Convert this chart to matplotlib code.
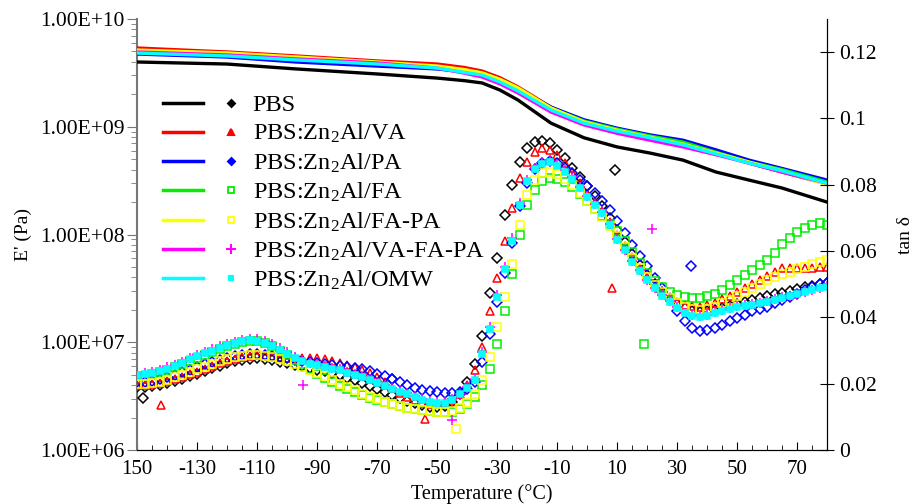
import numpy as np
import matplotlib
matplotlib.use("Agg")
import matplotlib.pyplot as plt
from matplotlib.lines import Line2D
from matplotlib.legend_handler import HandlerTuple
from matplotlib.ticker import FixedLocator, MultipleLocator, FuncFormatter, LogLocator

plt.rcParams['font.family'] = ['Liberation Serif', 'DejaVu Serif']
plt.rcParams['mathtext.fontset'] = 'custom'
plt.rcParams['mathtext.rm'] = 'Liberation Serif'
plt.rcParams['mathtext.it'] = 'Liberation Serif:italic'
plt.rcParams['mathtext.bf'] = 'Liberation Serif:bold'

names = ["PBS", "PBS:Zn$_2$Al/VA", "PBS:Zn$_2$Al/PA", "PBS:Zn$_2$Al/FA",
         "PBS:Zn$_2$Al/FA-PA", "PBS:Zn$_2$Al/VA-FA-PA", "PBS:Zn$_2$Al/OMW"]
colors = ["#000000", "#ff0000", "#0000ff", "#00ee00", "#ffff00", "#ff00ff", "#00ffff"]

# storage modulus E' (Pa)
eT = [-150, -120, -97, -70, -50, -41, -35, -29, -23, -12, -1, 10, 21, 32, 43, 54, 65, 80]
e_pbs = [3.99e9, 3.82e9, 3.44e9, 3.09e9, 2.83e9, 2.68e9, 2.55e9, 2.19e9, 1.77e9, 1.08e9,
         7.9e8, 6.5e8, 5.7e8, 4.9e8, 3.8e8, 3.2e8, 2.7e8, 2.0e8]
e_va = [5.38e9, 4.94e9, 4.54e9, 4.08e9, 3.82e9, 3.55e9, 3.29e9, 2.85e9, 2.34e9, 1.52e9,
        1.13e9, 9.3e8, 8.0e8, 7.1e8, 5.7e8, 4.6e8, 3.8e8, 2.94e8]
e_pa = [4.73e9, 4.44e9, 3.99e9, 3.66e9, 3.44e9, 3.25e9, 3.09e9, 2.68e9, 2.24e9, 1.52e9,
        1.16e9, 9.7e8, 8.4e8, 7.5e8, 6.1e8, 4.9e8, 4.1e8, 3.2e8]
e_fa = [5.05e9, 4.73e9, 4.35e9, 3.91e9, 3.59e9, 3.35e9, 3.16e9, 2.75e9, 2.29e9, 1.49e9,
        1.13e9, 9.5e8, 8.2e8, 7.2e8, 5.8e8, 4.7e8, 4.0e8, 3.07e8]
e_fapa = [5.15e9, 4.84e9, 4.44e9, 3.99e9, 3.66e9, 3.40e9, 3.16e9, 2.75e9, 2.29e9, 1.49e9,
          1.11e9, 9.3e8, 8.0e8, 6.9e8, 5.7e8, 4.7e8, 3.9e8, 2.9e8]
e_vafapa = [4.94e9, 4.64e9, 4.26e9, 3.91e9, 3.50e9, 3.15e9, 2.90e9, 2.50e9, 2.06e9, 1.37e9,
            1.04e9, 8.7e8, 7.5e8, 6.5e8, 5.5e8, 4.6e8, 3.8e8, 3.0e8]
e_omw = [4.83e9, 4.54e9, 4.17e9, 3.82e9, 3.51e9, 3.20e9, 3.02e9, 2.60e9, 2.15e9, 1.43e9,
         1.08e9, 9.1e8, 7.9e8, 6.8e8, 5.6e8, 4.6e8, 3.9e8, 3.0e8]

# tan delta, every 2.5 C from -150 to 80
tT = np.arange(-150, 80.01, 2.5)
tan_pbs = [0.0190, 0.0190, 0.0192, 0.0196, 0.0201, 0.0207, 0.0214, 0.0222, 0.0230, 0.0238,
           0.0246, 0.0254, 0.0261, 0.0267, 0.0272, 0.0275, 0.0276, 0.0274, 0.0270, 0.0266,
           0.0262, 0.0257, 0.0252, 0.0247, 0.0242, 0.0237, 0.0231, 0.0225, 0.0218, 0.0210,
           0.0202, 0.0193, 0.0184, 0.0175, 0.0166, 0.0157, 0.0148, 0.0141, 0.0135, 0.0131,
           0.0130, 0.0134, 0.0145, 0.0170, 0.0205, 0.0260, 0.0345, 0.0475, 0.0580, 0.0710,
           0.0800, 0.0870, 0.0910, 0.0928, 0.0932, 0.0925, 0.0905, 0.0880, 0.0852, 0.0822,
           0.0795, 0.0765, 0.0735, 0.0700, 0.0665, 0.0628, 0.0592, 0.0558, 0.0528, 0.0500,
           0.0476, 0.0456, 0.0440, 0.0428, 0.0420, 0.0417, 0.0418, 0.0422, 0.0428, 0.0435,
           0.0441, 0.0446, 0.0452, 0.0458, 0.0464, 0.0470, 0.0475, 0.0480, 0.0486, 0.0491,
           0.0496, 0.0500, 0.0503]
tan_va = [0.0196, 0.0196, 0.0198, 0.0202, 0.0207, 0.0213, 0.0220, 0.0228, 0.0236, 0.0245,
          0.0253, 0.0261, 0.0268, 0.0275, 0.0281, 0.0285, 0.0287, 0.0286, 0.0284, 0.0281,
          0.0279, 0.0278, 0.0278, 0.0278, 0.0277, 0.0274, 0.0269, 0.0263, 0.0256, 0.0249,
          0.0241, 0.0232, 0.0220, 0.0205, 0.0188, 0.0172, 0.0160, 0.0150, 0.0143, 0.0140,
          0.0140, 0.0144, 0.0152, 0.0170, 0.0195, 0.0240, 0.0310, 0.0420, 0.0520, 0.0630,
          0.0730, 0.0820, 0.0870, 0.0900, 0.0911, 0.0905, 0.0890, 0.0865, 0.0838, 0.0805,
          0.0775, 0.0748, 0.0720, 0.0688, 0.0650, 0.0615, 0.0582, 0.0550, 0.0522, 0.0497,
          0.0477, 0.0460, 0.0447, 0.0438, 0.0433, 0.0432, 0.0436, 0.0444, 0.0454, 0.0466,
          0.0478, 0.0490, 0.0502, 0.0514, 0.0526, 0.0538, 0.0548, 0.0550, 0.0548, 0.0548,
          0.0550, 0.0552, 0.0553]
tan_pa = [0.0205, 0.0206, 0.0209, 0.0214, 0.0220, 0.0227, 0.0234, 0.0242, 0.0250, 0.0258,
          0.0265, 0.0272, 0.0278, 0.0284, 0.0288, 0.0290, 0.0290, 0.0288, 0.0284, 0.0280,
          0.0276, 0.0272, 0.0269, 0.0266, 0.0263, 0.0260, 0.0257, 0.0254, 0.0251, 0.0248,
          0.0243, 0.0237, 0.0230, 0.0223, 0.0215, 0.0205, 0.0196, 0.0188, 0.0181, 0.0177,
          0.0175, 0.0173, 0.0172, 0.0175, 0.0185, 0.0205, 0.0265, 0.0350, 0.0445, 0.0535,
          0.0625, 0.0735, 0.0805, 0.0848, 0.0866, 0.0872, 0.0866, 0.0852, 0.0835, 0.0815,
          0.0795, 0.0775, 0.0752, 0.0725, 0.0690, 0.0655, 0.0618, 0.0585, 0.0555, 0.0520,
          0.0490, 0.0455, 0.0420, 0.0388, 0.0368, 0.0360, 0.0362, 0.0368, 0.0378, 0.0388,
          0.0398, 0.0408, 0.0418, 0.0425, 0.0432, 0.0442, 0.0452, 0.0462, 0.0472, 0.0483,
          0.0492, 0.0500, 0.0505]
tan_fa = [0.0222, 0.0224, 0.0228, 0.0234, 0.0241, 0.0249, 0.0258, 0.0268, 0.0278, 0.0287,
          0.0296, 0.0305, 0.0313, 0.0320, 0.0326, 0.0330, 0.0329, 0.0323, 0.0313, 0.0300,
          0.0286, 0.0272, 0.0258, 0.0244, 0.0230, 0.0217, 0.0205, 0.0194, 0.0184, 0.0175,
          0.0166, 0.0158, 0.0151, 0.0144, 0.0138, 0.0132, 0.0127, 0.0123, 0.0120, 0.0117,
          0.0115, 0.0114, 0.0116, 0.0124, 0.0138, 0.0160, 0.0195, 0.0245, 0.0320, 0.0420,
          0.0530, 0.0650, 0.0740, 0.0785, 0.0810, 0.0820, 0.0818, 0.0808, 0.0792, 0.0772,
          0.0750, 0.0728, 0.0705, 0.0683, 0.0662, 0.0630, 0.0598, 0.0565, 0.0535, 0.0510,
          0.0492, 0.0478, 0.0467, 0.0460, 0.0457, 0.0458, 0.0463, 0.0472, 0.0483, 0.0497,
          0.0512, 0.0528, 0.0543, 0.0558, 0.0573, 0.0595, 0.0620, 0.0640, 0.0658, 0.0670,
          0.0680, 0.0685, 0.0680]
tan_fapa = [0.0200, 0.0200, 0.0202, 0.0206, 0.0212, 0.0219, 0.0227, 0.0235, 0.0243, 0.0251,
            0.0259, 0.0267, 0.0274, 0.0280, 0.0285, 0.0288, 0.0288, 0.0285, 0.0280, 0.0274,
            0.0267, 0.0259, 0.0251, 0.0242, 0.0232, 0.0222, 0.0211, 0.0200, 0.0190, 0.0180,
            0.0170, 0.0161, 0.0153, 0.0145, 0.0138, 0.0132, 0.0127, 0.0123, 0.0120, 0.0118,
            0.0116, 0.0116, 0.0119, 0.0128, 0.0143, 0.0168, 0.0210, 0.0280, 0.0370, 0.0460,
            0.0560, 0.0680, 0.0770, 0.0815, 0.0834, 0.0838, 0.0832, 0.0818, 0.0798, 0.0775,
            0.0752, 0.0728, 0.0703, 0.0675, 0.0645, 0.0612, 0.0580, 0.0550, 0.0522, 0.0498,
            0.0477, 0.0458, 0.0443, 0.0432, 0.0425, 0.0422, 0.0425, 0.0432, 0.0442, 0.0453,
            0.0465, 0.0477, 0.0488, 0.0500, 0.0512, 0.0522, 0.0530, 0.0538, 0.0545, 0.0552,
            0.0560, 0.0566, 0.0572]
tan_vafapa = [0.0230, 0.0232, 0.0236, 0.0242, 0.0249, 0.0257, 0.0266, 0.0277, 0.0287, 0.0296,
              0.0305, 0.0313, 0.0320, 0.0327, 0.0333, 0.0336, 0.0334, 0.0328, 0.0319, 0.0307,
              0.0295, 0.0282, 0.0271, 0.0263, 0.0258, 0.0253, 0.0248, 0.0243, 0.0236, 0.0229,
              0.0222, 0.0214, 0.0206, 0.0197, 0.0188, 0.0179, 0.0171, 0.0163, 0.0155, 0.0149,
              0.0145, 0.0146, 0.0155, 0.0170, 0.0190, 0.0215, 0.0295, 0.0372, 0.0467, 0.0552,
              0.0638, 0.0745, 0.0815, 0.0852, 0.0868, 0.0872, 0.0862, 0.0844, 0.0822, 0.0793,
              0.0766, 0.0742, 0.0718, 0.0682, 0.0636, 0.0604, 0.0570, 0.0542, 0.0514, 0.0490,
              0.0467, 0.0449, 0.0430, 0.0414, 0.0406, 0.0403, 0.0407, 0.0415, 0.0422, 0.0428,
              0.0433, 0.0437, 0.0440, 0.0444, 0.0448, 0.0454, 0.0460, 0.0465, 0.0472, 0.0478,
              0.0484, 0.0490, 0.0494]
tan_omw = [0.0226, 0.0228, 0.0232, 0.0238, 0.0245, 0.0253, 0.0262, 0.0273, 0.0283, 0.0292,
           0.0300, 0.0309, 0.0316, 0.0323, 0.0329, 0.0332, 0.0330, 0.0324, 0.0315, 0.0303,
           0.0291, 0.0278, 0.0267, 0.0260, 0.0255, 0.0250, 0.0245, 0.0240, 0.0233, 0.0226,
           0.0219, 0.0211, 0.0203, 0.0194, 0.0185, 0.0176, 0.0168, 0.0160, 0.0152, 0.0146,
           0.0142, 0.0143, 0.0152, 0.0168, 0.0188, 0.0210, 0.0290, 0.0365, 0.0460, 0.0545,
           0.0630, 0.0740, 0.0810, 0.0848, 0.0864, 0.0868, 0.0858, 0.0840, 0.0818, 0.0790,
           0.0763, 0.0740, 0.0716, 0.0680, 0.0633, 0.0602, 0.0568, 0.0540, 0.0512, 0.0488,
           0.0465, 0.0447, 0.0428, 0.0412, 0.0404, 0.0401, 0.0405, 0.0413, 0.0420, 0.0426,
           0.0431, 0.0435, 0.0438, 0.0442, 0.0446, 0.0452, 0.0458, 0.0463, 0.0470, 0.0476,
           0.0482, 0.0488, 0.0492]

# stray points
out_T = [[-148, 9.3], [-142, -54, 8.3], [34.7, -65], [19], [-43.7], [-94.7, 21.7, -45], []]
out_tan = [[0.0157, 0.0845], [0.0136, 0.0093, 0.049], [0.0555, 0.0215], [0.032], [0.0063],
           [0.0196, 0.0667, 0.009], []]

e_all = [e_pbs, e_va, e_pa, e_fa, e_fapa, e_vafapa, e_omw]
tan_all = [tan_pbs, tan_va, tan_pa, tan_fa, tan_fapa, tan_vafapa, tan_omw]
mk = ['D', '^', 'D', 's', 's', '+', 's']
ms = [5.0, 6.0, 5.0, 6.2, 6.2, 6.5, 4.0]
hollow = [True, True, True, True, True, False, False]
leg_ms = [3.5, 4.5, 3.5, 4.0, 4.0, 7, 3.5]
leg_fill = [True, True, True, False, False, True, True]

fig = plt.figure(figsize=(9.15, 5.04), dpi=100)
ax = fig.add_axes([137 / 915, 54 / 504, 690 / 915, 431 / 504])
ax2 = ax.twinx()

for i in range(7):
    ax.plot(eT, e_all[i], color=colors[i], lw=2.4, zorder=3)
    kw = dict(ls='none', marker=mk[i], ms=ms[i], mew=1.1)
    if hollow[i]:
        kw.update(mfc='none', mec=colors[i])
    else:
        kw.update(color=colors[i])
    ax2.plot(tT, tan_all[i], **kw)
    ax2.plot(out_T[i], out_tan[i], **kw)

ax.set_yscale('log')
ax.set_ylim(1e6, 1e10)
ax.set_xlim(-150, 80)
ax2.set_ylim(0, 0.13)

xt = list(range(-150, 71, 20))
ax.xaxis.set_major_locator(FixedLocator(xt))
ax.xaxis.set_minor_locator(MultipleLocator(5))
ax.set_xticklabels(["150"] + [str(v) for v in xt[1:]])
ax.yaxis.set_major_locator(LogLocator(base=10, numticks=10))
ax.yaxis.set_minor_locator(LogLocator(base=10, subs=np.arange(2, 10), numticks=10))
ax.yaxis.set_major_formatter(FuncFormatter(lambda v, p: "%.2E" % v))
ax2.yaxis.set_major_locator(FixedLocator([0, 0.02, 0.04, 0.06, 0.08, 0.1, 0.12]))
ax2.yaxis.set_major_formatter(FuncFormatter(lambda v, p: "%g" % round(v, 2)))

ax.tick_params(axis='x', which='major', direction='in', length=6, labelsize=15, pad=7)
ax.tick_params(axis='x', which='minor', direction='in', length=3.5)
ax.tick_params(axis='y', which='major', direction='out', length=7, labelsize=15.5,
               color='#777777', pad=2)
ax.tick_params(axis='y', which='minor', direction='out', length=4, color='#777777')
ax2.tick_params(axis='y', direction='inout', length=10, labelsize=15.5, pad=4)

for a in (ax, ax2):
    a.spines['top'].set_visible(False)
ax2.spines['left'].set_visible(False)
ax.spines['left'].set_color('#777777')
ax.spines['left'].set_linewidth(1.5)

ax.set_ylabel("E' (Pa)", fontsize=14, labelpad=6)
ax2.set_ylabel("tan δ", fontsize=14, labelpad=14)
ax.set_xlabel("Temperature (°C)", fontsize=14.5, labelpad=4)

handles = []
for i in range(7):
    ln = Line2D([], [], color=colors[i], lw=2.5)
    if leg_fill[i]:
        m = Line2D([], [], ls='none', marker=mk[i], ms=leg_ms[i], color=colors[i], mew=1.5)
    else:
        m = Line2D([], [], ls='none', marker=mk[i], ms=leg_ms[i], mfc='none',
                   mec=colors[i], mew=1.3)
    handles.append((ln, m))
ax2.legend(handles, names, handler_map={tuple: HandlerTuple(ndivide=None, pad=0.33)},
           loc='upper left', bbox_to_anchor=(0.037, 0.826), frameon=False, fontsize=17.5,
           handlelength=3.66, handletextpad=0.05, labelspacing=0.25, borderpad=0,
           borderaxespad=0)

fig.savefig("out.png", dpi=100)
